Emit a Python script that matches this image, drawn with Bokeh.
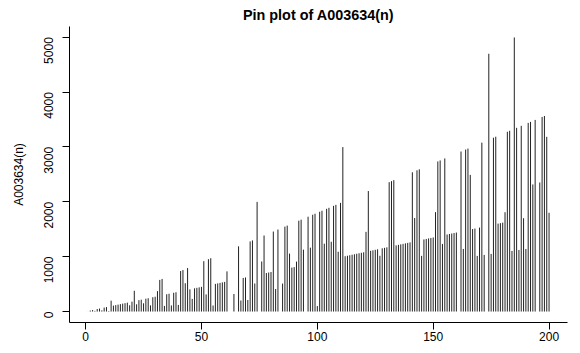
import math
from bokeh.plotting import figure
from bokeh.models import Range1d, FixedTicker, ColumnDataSource
from bokeh.embed import file_html
from bokeh.resources import INLINE

# index n = 1..200
n_values = list(range(1, 201))

# A003634(n): smallest number that is n times the sum of its digits (0 if none)
a_values = [
    1, 18, 27, 12, 45, 54, 21, 72, 81, 10,
    198, 108, 117, 126, 135, 144, 153, 162, 114, 180,
    378, 132, 207, 216, 150, 234, 243, 112, 261, 270,
    372, 576, 594, 102, 315, 324, 111, 342, 351, 120,
    738, 756, 516, 792, 405, 230, 423, 432, 441, 450,
    918, 312, 954, 972, 110, 504, 513, 522, 531, 540,
    732, 0, 0, 320, 0, 1188, 201, 612, 621, 210,
    1278, 1296, 511, 1998, 0, 912, 1386, 702, 711, 720,
    1458, 410, 1494, 0, 510, 1548, 1566, 1056, 801, 810,
    910, 1656, 1674, 1128, 0, 1728, 1164, 1764, 1782, 100,
    1818, 1836, 1236, 1872, 1890, 1272, 1926, 1944, 1090, 1980,
    2997, 1008, 1017, 1026, 1035, 1044, 1053, 1062, 1071, 1080,
    1452, 2196, 1107, 1116, 1125, 1134, 1016, 1152, 1161, 1170,
    2358, 2376, 2394, 1206, 1215, 1224, 1233, 1242, 1251, 1260,
    2538, 1704, 2574, 2592, 1015, 1314, 1323, 1332, 1341, 1350,
    1812, 2736, 2754, 1232, 2790, 1404, 1413, 1422, 1431, 1440,
    0, 2916, 1141, 2952, 2970, 2490, 1503, 1512, 1014, 1530,
    3078, 1032, 0, 4698, 1050, 3168, 3186, 1602, 1611, 1620,
    1810, 3276, 3294, 1104, 4995, 3348, 1122, 3384, 1701, 1140,
    3438, 3456, 2316, 3492, 0, 2352, 3546, 3564, 3184, 1800,
]

x_ticks = [0, 50, 100, 150, 200]
y_ticks = [0, 1000, 2000, 3000, 4000, 5000]

title_text = "Pin plot of A003634(n)"
y_label = "A003634(n)"

FONT = "Liberation Sans"

src = ColumnDataSource(data=dict(n=n_values, a=a_values, base=[0] * len(n_values)))

p = figure(
    width=580, height=353,
    output_backend="svg", toolbar_location=None,
    x_range=Range1d(-6.96, 207.96), y_range=Range1d(-199.8, 5194.8),
    min_border_left=69, min_border_right=13, min_border_top=25, min_border_bottom=31,
    title=title_text,
)
p.background_fill_color = "white"
p.border_fill_color = "white"
p.outline_line_color = None
p.xgrid.grid_line_color = None
p.ygrid.grid_line_color = None

p.title.align = "center"
p.title.text_font = FONT
p.title.text_font_size = "14.4px"
p.title.text_font_style = "bold"
p.title.text_color = "black"
p.title.standoff = 8

p.segment(x0="n", y0="base", x1="n", y1="a", source=src, line_color="#222222", line_width=1)

for ax in (p.xaxis[0], p.yaxis[0]):
    ax.axis_line_color = "black"
    ax.axis_line_width = 1
    ax.major_tick_line_color = "black"
    ax.major_tick_out = 7
    ax.major_tick_in = 0
    ax.minor_tick_line_color = None
    ax.major_label_text_font = FONT
    ax.major_label_text_font_size = "12px"
    ax.major_label_text_color = "black"

p.xaxis.ticker = FixedTicker(ticks=x_ticks)
p.yaxis.ticker = FixedTicker(ticks=y_ticks)
p.xaxis.major_label_standoff = 2
p.yaxis.major_label_standoff = 14
p.yaxis.major_label_orientation = math.pi / 2

p.yaxis.axis_label = y_label
p.yaxis.axis_label_text_font = FONT
p.yaxis.axis_label_text_font_size = "12px"
p.yaxis.axis_label_text_font_style = "normal"
p.yaxis.axis_label_text_color = "black"
p.yaxis.axis_label_standoff = 11

open("out.html", "w").write(file_html(p, INLINE))
